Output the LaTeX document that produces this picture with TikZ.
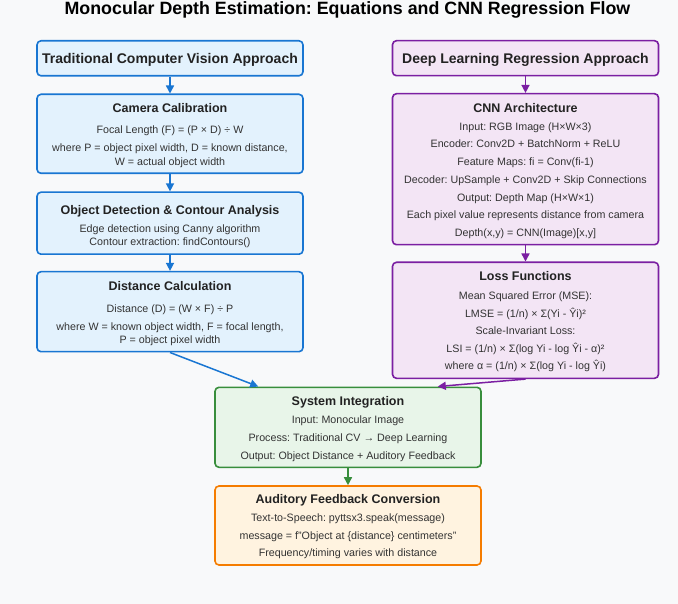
\documentclass[tikz,border=0pt]{standalone}
\usepackage{fontspec}
\setmainfont{Liberation Sans}
\usetikzlibrary{arrows.meta}
\frenchspacing
\definecolor{bgc}{HTML}{F8F9FA}
\definecolor{bluel}{HTML}{1976D2}
\definecolor{bluef}{HTML}{E3F2FD}
\definecolor{purl}{HTML}{7B1FA2}
\definecolor{purf}{HTML}{F3E5F5}
\definecolor{grnl}{HTML}{388E3C}
\definecolor{grnf}{HTML}{E8F5E9}
\definecolor{orgl}{HTML}{F57C00}
\definecolor{orgf}{HTML}{FFF3E0}
\definecolor{txtc}{HTML}{333333}
\definecolor{ttlc}{HTML}{222222}
\tikzset{
  box/.style={draw=#1l, fill=#1f, line width=1.6pt, rounded corners=4pt, minimum width=266pt, inner sep=0pt},
  arr/.style={draw=#1, line width=1.5pt, -{Triangle[length=8pt,width=8pt]}},
  body/.style={anchor=base, text=txtc, font=\fontsize{10.7}{12}\selectfont, inner sep=0pt},
  head/.style={anchor=base, text=ttlc, font=\fontsize{12.5}{14}\selectfont\bfseries, inner sep=0pt},
  big/.style={anchor=base, text=ttlc, font=\fontsize{14}{16}\selectfont\bfseries, inner sep=0pt},
}
\begin{document}
\frenchspacing
\begin{tikzpicture}[x=1pt,y=-1pt]
\fill[bgc] (0,0) rectangle (678,604);
\useasboundingbox (0,0) rectangle (678,604);
% title
\node[anchor=base, text=black, font=\fontsize{17.8}{20}\selectfont\bfseries, inner sep=0pt] (title) at (347.5,15) {Monocular Depth Estimation: Equations and CNN Regression Flow};
% boxes left
\node[box=blue, minimum height=35pt] (tcv) at (170,58.3) {};
\node[box=blue, minimum height=79pt] (cam) at (170,133.8) {};
\node[box=blue, minimum height=62pt] (obj) at (170,223.2) {};
\node[box=blue, minimum height=80pt] (dist) at (170,311.7) {};
% boxes right
\node[box=pur, minimum height=35pt] (dl) at (525.5,58.2) {};
\node[box=pur, minimum height=151pt] (cnn) at (525.5,169.2) {};
\node[box=pur, minimum height=116pt] (loss) at (525.5,320.3) {};
% bottom
\node[box=grn, minimum height=80pt] (sys) at (348,427.3) {};
\node[box=org, minimum height=79pt] (aud) at (348,525.5) {};
% texts
\node[big] (t1) at (170,63.3) {Traditional Computer Vision Approach};
\node[big] (t2) at (525.5,63.3) {Deep Learning Regression Approach};

\node[head] (c0) at (170,112.8) {Camera Calibration};
\node[body] (c1) at (170,133.9) {Focal Length (F) = (P × D) ÷ W};
\node[body] (c2) at (170,151.6) {where P = object pixel width, D = known distance,};
\node[body] (c3) at (170,165.5) {W = actual object width};

\node[head] (o0) at (170,214.5) {Object Detection \& Contour Analysis};
\node[body] (o1) at (170,232.5) {Edge detection using Canny algorithm};
\node[body] (o2) at (170,245.2) {Contour extraction: findContours()};

\node[head] (d0) at (170,290.2) {Distance Calculation};
\node[body] (d1) at (170,312.2) {Distance (D) = (W × F) ÷ P};
\node[body] (d2) at (170,330.5) {where W = known object width, F = focal length,};
\node[body] (d3) at (170,343.9) {P = object pixel width};

\node[head] (n0) at (525.5,112.2) {CNN Architecture};
\node[body] (n1) at (525.5,130.5) {Input: RGB Image (H×W×3)};
\node[body] (n2) at (525.5,147.9) {Encoder: Conv2D + BatchNorm + ReLU};
\node[body] (n3) at (525.5,165.5) {Feature Maps: fi = Conv(fi-1)};
\node[body] (n4) at (525.5,183.8) {Decoder: UpSample + Conv2D + Skip Connections};
\node[body] (n5) at (525.5,201.2) {Output: Depth Map (H×W×1)};
\node[body] (n6) at (525.5,218.9) {Each pixel value represents distance from camera};
\node[body] (n7) at (525.5,236.2) {Depth(x,y) = CNN(Image)[x,y]};

\node[head] (l0) at (525.5,280.5) {Loss Functions};
\node[body] (l1) at (525.5,299.5) {Mean Squared Error (MSE):};
\node[body] (l2) at (525.5,317.5) {LMSE = (1/n) × Σ(Yi - Ŷi)²};
\node[body] (l3) at (525.5,334.9) {Scale-Invariant Loss:};
\node[body] (l4) at (525.5,352.4) {LSI = (1/n) × Σ(log Yi - log Ŷi - α)²};
\node[body] (l5) at (525.5,369.9) {where α = (1/n) × Σ(log Yi - log Ŷi)};

\node[head] (s0) at (348,405.8) {System Integration};
\node[body] (s1) at (348,423.5) {Input: Monocular Image};
\node[body] (s2) at (348,441.2) {Process: Traditional CV → Deep Learning};
\node[body] (s3) at (348,459.2) {Output: Object Distance + Auditory Feedback};

\node[head] (a0) at (348,503.5) {Auditory Feedback Conversion};
\node[body] (a1) at (348,521.2) {Text-to-Speech: pyttsx3.speak(message)};
\node[body] (a2) at (348,539.2) {message = f"Object at \{distance\} centimeters"};
\node[body] (a3) at (348,556.9) {Frequency/timing varies with distance};
% arrows
\draw[arr=bluel] (tcv.south) -- (cam.north);
\draw[arr=bluel] (cam.south) -- (obj.north);
\draw[arr=bluel] (obj.south) -- (dist.north);
\draw[arr=bluel] (dist.south) -- ([xshift=44pt]sys.north west);
\draw[arr=purl] (dl.south) -- (cnn.north);
\draw[arr=purl] (cnn.south) -- (loss.north);
\draw[arr=purl] (loss.south) -- ([xshift=-44pt]sys.north east);
\draw[arr=grnl] (sys.south) -- (aud.north);
\end{tikzpicture}
\end{document}
